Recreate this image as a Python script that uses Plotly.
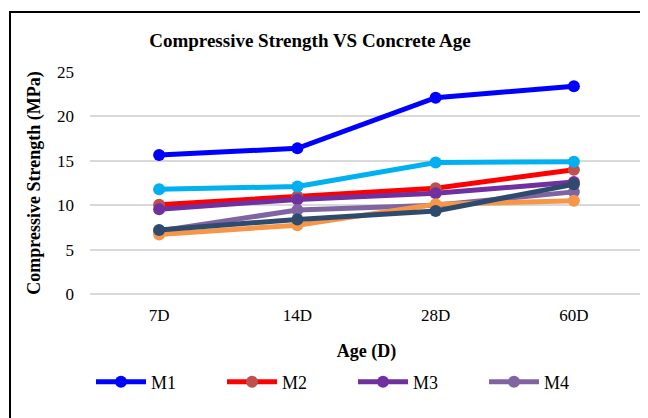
import plotly.graph_objects as go

ages = ["7D", "14D", "28D", "60D"]
series_names = ["M1", "M2", "M3", "M4", "M5", "M6", "M7"]
m1 = [15.65, 16.4, 22.1, 23.4]
m2 = [10.05, 11.0, 11.9, 14.0]
m3 = [9.55, 10.65, 11.35, 12.6]
m4 = [7.1, 9.45, 10.0, 11.5]
m5 = [11.8, 12.1, 14.8, 14.9]
m6 = [6.7, 7.75, 10.1, 10.5]
m7 = [7.2, 8.4, 9.35, 12.35]
values = [m1, m2, m3, m4, m5, m6, m7]
line_colors = ["#0000FF", "#FF0000", "#7030A0", "#8064A2", "#00B0F0", "#F79646", "#2E4B6E"]
marker_colors = ["#0000FF", "#C0504D", "#7030A0", "#8064A2", "#00B0F0", "#F79646", "#2E4B6E"]
legend_shown = [True, True, True, True, False, False, False]

serif = "Liberation Serif"

fig = go.Figure()
for name, vals, lc, mc, show in zip(series_names, values, line_colors, marker_colors, legend_shown):
    fig.add_trace(go.Scatter(
        x=ages, y=vals, name=name, mode="lines+markers",
        line=dict(color=lc, width=5),
        marker=dict(color=mc, size=12),
        showlegend=show, cliponaxis=False,
    ))

# page body has an 8px margin, so the figure is sized to the remaining area
W, H = 640, 410
L, R, T, B = 82, 5, 64, 124
pw = W - L - R
ph = H - T - B

def px_x(p):
    return (p - L) / pw

def px_y(p):
    return (H - B - p) / ph

fig.update_layout(
    width=W, height=H,
    margin=dict(l=L, r=R, t=T, b=B, autoexpand=False),
    paper_bgcolor="white", plot_bgcolor="white",
    font=dict(family=serif, size=17, color="#000000"),
    title=dict(text="<b>Compressive Strength VS Concrete Age</b>",
               xref="container", yref="container",
               x=302 / W, xanchor="center", y=1 - 32 / H, yanchor="middle",
               font=dict(family=serif, size=19, color="#000000")),
    xaxis=dict(type="category", range=[-0.5, 3.5], showgrid=False, showline=False, ticks="",
               ticklabelstandoff=9, tickfont=dict(family=serif, size=17),
               title=dict(text="<b>Age (D)</b>", standoff=20, font=dict(family=serif, size=18))),
    yaxis=dict(range=[0, 25], dtick=5, showgrid=True, gridcolor="#D9D9D9", gridwidth=1.5,
               zeroline=True, zerolinecolor="#D9D9D9", zerolinewidth=1.5,
               showline=False, ticks="", ticklabelstandoff=15, tickfont=dict(family=serif, size=17),
               title=dict(text="<b>Compressive Strength (MPa)</b>", standoff=11,
                          font=dict(family=serif, size=18))),
    legend=dict(orientation="h", x=px_x(83), xanchor="left", y=px_y(374), yanchor="middle",
                entrywidth=66, entrywidthmode="pixels", font=dict(family=serif, size=18),
                bgcolor="rgba(0,0,0,0)", itemwidth=50, tracegroupgap=0),
    shapes=[dict(type="rect", xref="paper", yref="paper",
                 x0=px_x(2), x1=px_x(700), y0=px_y(700), y1=px_y(4),
                 line=dict(color="black", width=2), fillcolor="rgba(0,0,0,0)", layer="below")],
)

fig.write_html("out.html")
